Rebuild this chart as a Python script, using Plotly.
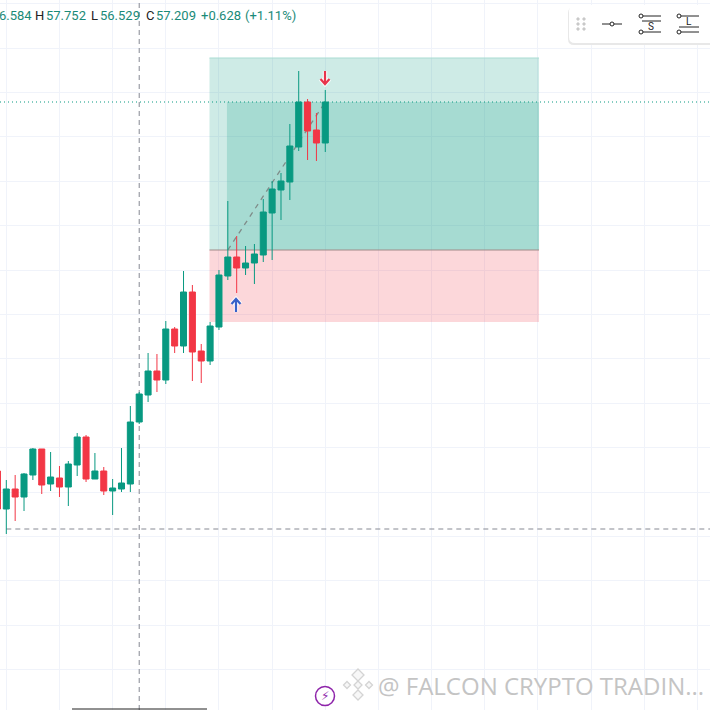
import plotly.graph_objects as go

W = H = 710
opens = [22.9,19.1,21.1,20.3,22.5,25.1,21.6,22.2,21.3,23.5,26.3,22.1,22.9,20.9,21.1,21.6,27.8,30.5,32.9,32.0,37.1,35.4,40.8,34.9,33.9,37.3,42.4,44.3,43.2,43.7,44.5,48.7,51.0,51.8,55.3,59.8,57.0,55.7]
highs = [23.2,22.0,22.5,22.7,25.2,25.1,24.8,23.4,23.9,26.7,26.5,24.7,23.3,22.1,25.2,29.4,30.8,34.7,34.6,37.9,37.3,42.9,41.5,35.6,37.8,43.0,49.9,46.4,45.4,45.6,50.1,51.9,52.7,57.6,62.9,60.1,58.7,61.0]
lows = [18.8,16.6,17.9,18.9,22.0,20.6,20.9,20.3,19.4,22.4,21.8,22.1,20.5,18.5,20.8,20.8,27.6,29.8,30.8,31.6,34.7,34.7,31.9,31.7,33.5,37.0,42.0,40.7,42.5,41.6,43.8,44.0,48.0,50.0,54.9,54.0,53.9,54.8]
closes = [19.1,21.1,20.3,22.6,25.1,21.5,22.3,21.3,23.6,26.3,22.1,22.9,20.9,21.2,21.7,27.8,30.6,32.9,32.0,37.1,35.4,40.8,34.8,33.9,37.4,42.5,44.3,43.2,43.7,44.6,48.8,51.1,51.9,55.4,59.8,56.9,55.7,59.8]
bars = list(range(len(opens)))

box_x = [23.93, 61.12]
entry_x = 25.9
target, entry, stop = 64.2, 45.0, 37.8
last_close = 59.8
cross_x, cross_y, cross_start = 16, 17.1, 1

X_RANGE = [0.289, 80.416]
Y_RANGE = [-1, 70]
GREEN, RED = "#089981", "#f23645"

def px(v):
    return v / W
def py(v):
    return 1 - v / H

L = "between"
shapes = [
    dict(type="rect", x0=box_x[0], x1=box_x[1], y0=entry, y1=target, fillcolor="rgba(8,153,129,0.2)", line=dict(width=0), layer=L),
    dict(type="line", x0=box_x[0], x1=box_x[1], y0=target, y1=target, line=dict(color="#a9dcd2", width=1), layer=L),
    dict(type="rect", x0=entry_x, x1=box_x[1], y0=entry, y1=last_close, fillcolor="rgba(8,153,129,0.2)", line=dict(width=0), layer=L),
    dict(type="rect", x0=box_x[0], x1=box_x[1], y0=stop, y1=entry, fillcolor="rgba(242,54,69,0.2)", line=dict(width=0), layer=L),
    dict(type="line", x0=box_x[0], x1=box_x[1], y0=entry, y1=entry, line=dict(color="#a08a88", width=1), layer=L),
    dict(type="line", x0=26, x1=37, y0=45.0, y1=last_close, line=dict(color="#7f8c89", width=1.3, dash="5px,5px"), layer=L),
    dict(type="line", x0=X_RANGE[0], x1=X_RANGE[1], y0=last_close, y1=last_close, line=dict(color=GREEN, width=1, dash="1px,3px"), layer=L),
    dict(type="line", x0=cross_start, x1=X_RANGE[1], y0=cross_y, y1=cross_y, line=dict(color="#868993", width=1, dash="5px,4px"), layer=L),
    dict(type="line", x0=cross_x, x1=cross_x, y0=Y_RANGE[0], y1=Y_RANGE[1], line=dict(color="#868993", width=1, dash="5px,4px"), layer=L),
    dict(type="line", xref="paper", yref="paper", x0=px(72), x1=px(207), y0=py(709), y1=py(709), line=dict(color="#222222", width=1)),
]

def round_rect(x0, y0, x1, y1, r):
    a, b, c, d = px(x0), px(x1), py(y0), py(y1)
    rx, ry = r / W, r / H
    return (f"M{a+rx},{c} L{b-rx},{c} Q{b},{c} {b},{c-ry} L{b},{d+ry} Q{b},{d} {b-rx},{d} "
            f"L{a+rx},{d} Q{a},{d} {a},{d+ry} L{a},{c-ry} Q{a},{c} {a+rx},{c} Z")

shapes.append(dict(type="path", xref="paper", yref="paper", path=round_rect(568, 7, 716, 45, 6), fillcolor="#e8e8e8", line=dict(width=0)))
shapes.append(dict(type="path", xref="paper", yref="paper", path=round_rect(569, 5, 716, 43, 6), fillcolor="#ffffff", line=dict(width=0)))

def pline(x0, y0, x1, y1, color="#222222", width=1):
    return dict(type="line", xref="paper", yref="paper", x0=px(x0), x1=px(x1), y0=py(y0), y1=py(y1), line=dict(color=color, width=width))

def pcirc(cx, cy, r, color="#222222", fill="#ffffff", width=1):
    return dict(type="circle", xref="paper", yref="paper", x0=px(cx - r), x1=px(cx + r), y0=py(cy - r), y1=py(cy + r),
                line=dict(color=color, width=width), fillcolor=fill)

def polyline(points, color, width):
    d = "M" + " L".join(f"{px(a)},{py(b)}" for a, b in points)
    return dict(type="path", xref="paper", yref="paper", path=d, line=dict(color=color, width=width))

for gx in (578, 584):
    for gy in (19, 24, 29):
        shapes.append(pcirc(gx, gy, 1.2, "#c9c9c9", "#c9c9c9"))
shapes += [
    pline(602, 24, 622, 24), pcirc(612, 24, 2),
    pline(642, 16, 661, 16), pline(642, 21, 661, 21), pline(642, 32, 661, 32), pcirc(641, 16, 2), pcirc(641, 32, 2),
    pline(679, 16, 699, 16), pline(679, 27, 699, 27), pline(679, 32, 699, 32), pcirc(679, 16, 2), pcirc(679, 32, 2),
]

# trade arrows
for tail, tip, wl, wr, col in (
    ((236, 312), (236, 299), (231.5, 304), (240.5, 304), "#3862c9"),
    ((325, 71), (325, 84), (320.5, 79), (329.5, 79), "#e8344c"),
):
    for colr, wid in (("rgba(255,255,255,0.8)", 4.5), (col, 2.2)):
        shapes.append(polyline([tail, tip], colr, wid))
        shapes.append(polyline([wl, tip, wr], colr, wid))

# footer badge and logo
shapes.append(pcirc(325, 696, 9.5, "#8e24aa", "#ffffff", 1.5))
for cx, cy, r in ((358, 675, 6), (358, 695, 5), (347, 685, 3.5), (369, 685, 3.5), (358, 685, 4)):
    shapes.append(dict(type="path", xref="paper", yref="paper",
                       path=f"M{px(cx)},{py(cy-r)} L{px(cx+r)},{py(cy)} L{px(cx)},{py(cy+r)} L{px(cx-r)},{py(cy)} Z",
                       line=dict(color="#d4d4d4", width=1.3), fillcolor="#f7f7f7"))

ann = []
def text(x, y, s, color, size=13, family="Roboto", anchor="left"):
    ann.append(dict(xref="paper", yref="paper", x=px(x), y=py(y), text=s, showarrow=False, xanchor=anchor, yanchor="middle",
                    font=dict(color=color, size=size, family=family), borderpad=0, borderwidth=0))

TEAL = "#1a8a78"
text(-1.5, 16, "6.584", TEAL)
text(35, 16, "H", "#222222")
text(46, 16, "57.752", TEAL)
text(91, 16, "L", "#222222")
text(100, 16, "56.529", TEAL)
text(146, 16, "C", "#222222")
text(156, 16, "57.209", TEAL)
text(201, 16, "+0.628", TEAL)
text(245, 16, "(+1.11%)", TEAL)
text(651, 27, "S", "#222222", 10, "Roboto", "center")
text(689, 22, "L", "#222222", 10, "Roboto", "center")
text(325, 696, "⚡", "#8e24aa", 12, "DejaVu Sans", "center")
text(378, 685, "@ FALCON CRYPTO TRADIN...", "#c4c4c4", 24, "Open Sans")

fig = go.Figure(go.Candlestick(
    x=bars, open=opens, high=highs, low=lows, close=closes,
    increasing=dict(line=dict(color=GREEN, width=1), fillcolor=GREEN),
    decreasing=dict(line=dict(color=RED, width=1), fillcolor=RED),
    whiskerwidth=0, showlegend=False, hoverinfo="skip",
))
fig.update_layout(
    width=W, height=H, margin=dict(l=0, r=0, t=0, b=0),
    paper_bgcolor="#ffffff", plot_bgcolor="#ffffff", showlegend=False,
    shapes=shapes, annotations=ann, boxgap=0.15, boxgroupgap=0.2,
    xaxis=dict(range=X_RANGE, rangeslider=dict(visible=False), showticklabels=False, ticks="",
               tick0=1, dtick=6, showgrid=True, gridcolor="#f0f3fa", gridwidth=1, zeroline=False),
    yaxis=dict(range=Y_RANGE, showticklabels=False, ticks="",
               tick0=20.8, dtick=4.44, showgrid=True, gridcolor="#f0f3fa", gridwidth=1, zeroline=False),
)
fig.write_html("out.html", config=dict(displayModeBar=False),
               post_script="document.body.style.margin='0';document.documentElement.style.overflow='hidden';")
